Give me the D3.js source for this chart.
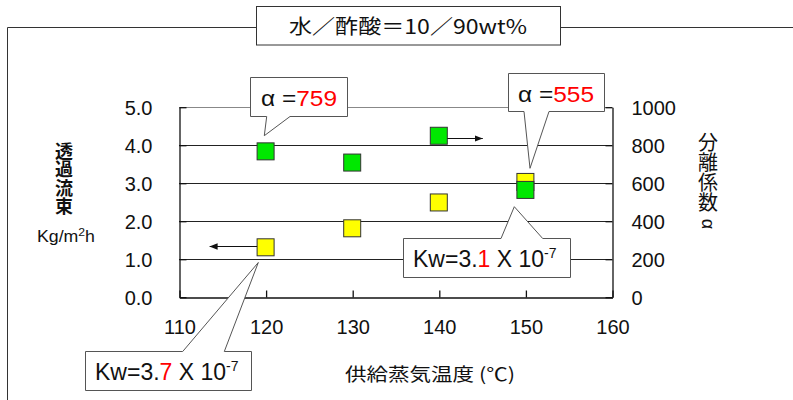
<!DOCTYPE html>
<html><head><meta charset="utf-8">
<script src="https://cdn.jsdelivr.net/npm/d3@7"></script>
<style>
html,body{margin:0;padding:0;background:#fff;}
text{font-family:"Liberation Sans","Noto Sans CJK JP",Arial,sans-serif;}
.jp{font-family:"Noto Sans CJK JP","Noto Sans CJK SC",sans-serif;}
.vert{writing-mode:vertical-rl;text-orientation:upright;}
</style></head>
<body><svg id="c" width="793" height="400"></svg>
<script>
// ---- data ----
const temps = [120, 130, 140, 150];          // 供給蒸気温度 (℃)
const flux = [1.30, 1.80, 2.48, 3.02];       // 透過流束 Kg/m2h (left axis)
const alpha = [765, 706, 847, 562];          // 分離係数 α (right axis)
const xTicks = [110, 120, 130, 140, 150, 160];
const yLeftTicks = [0, 1, 2, 3, 4, 5];
const yRightTicks = [0, 200, 400, 600, 800, 1000];
const title = "水／酢酸＝10／90wt%";

const svg = d3.select("#c");
const X0 = 179, X1 = 612, Y0 = 296.7, Y1 = 106.7;
const x = d3.scaleLinear().domain([110, 160]).range([X0, X1]);
const yL = d3.scaleLinear().domain([0, 5]).range([Y0, Y1]);
const yR = d3.scaleLinear().domain([0, 1000]).range([Y0, Y1]);

// outer frame
svg.append("path").attr("d", "M7.5,400 V27.5 H256 M560,27.5 H793")
  .attr("fill", "none").attr("stroke", "#333").attr("stroke-width", 1);
svg.append("rect").attr("x", 256.5).attr("y", 6.5).attr("width", 304).attr("height", 38.5)
  .attr("fill", "#fff").attr("stroke", "#333");
svg.append("text").attr("class", "jp").attr("x", 408).attr("y", 34).attr("text-anchor", "middle")
  .attr("font-size", 20).attr("textLength", 238).attr("lengthAdjust", "spacingAndGlyphs")
  .attr("fill", "#111").text(title);

// gridlines
const g = svg.append("g");
g.selectAll("line.grid").data(yLeftTicks.filter(d => d > 0 && d < 5)).join("line")
  .attr("x1", X0).attr("x2", X1).attr("y1", d => Math.round(yL(d)) + 0.5).attr("y2", d => Math.round(yL(d)) + 0.5)
  .attr("stroke", "#222");
g.append("line").attr("x1", X0).attr("x2", X1).attr("y1", Math.round(yL(5)) + 0.5).attr("y2", Math.round(yL(5)) + 0.5)
  .attr("stroke", "#888");

// axes
const fontAxis = 20;
const axL = svg.append("g").attr("transform", `translate(${X0 + 0.5},0.5)`)
  .call(d3.axisLeft(yL).tickValues(yLeftTicks).tickFormat(d3.format(".1f")).tickSize(-7).tickSizeOuter(0).tickPadding(27));
const axR = svg.append("g").attr("transform", `translate(${X1 + 0.5},0.5)`)
  .call(d3.axisRight(yR).tickValues(yRightTicks).tickFormat(d3.format("d")).tickSize(-7).tickSizeOuter(0).tickPadding(19));
const axB = svg.append("g").attr("transform", `translate(0.5,${Math.round(Y0) + 0.5})`)
  .call(d3.axisBottom(x).tickValues(xTicks).tickFormat(d3.format("d")).tickSize(-7).tickSizeOuter(0).tickPadding(22));
[axL, axR, axB].forEach(a => {
  a.selectAll("text").attr("font-size", fontAxis).attr("fill", "#111")
    .style("font-family", "'Liberation Sans',Arial,sans-serif");
  a.selectAll("line,path").attr("stroke", "#111").attr("stroke-width", 1.3);
});
axL.selectAll("text").attr("dy", "0.36em");
axR.selectAll("text").attr("dy", "0.36em");

// axis titles
svg.append("text").attr("class", "jp vert").attr("x", 64).attr("y", 142)
  .attr("font-size", 18).attr("font-weight", "bold").attr("letter-spacing", 0.5)
  .attr("fill", "#111").text("透過流束");
svg.append("text").attr("x", 66).attr("y", 242).attr("text-anchor", "middle")
  .attr("font-size", 16).attr("textLength", 58).attr("lengthAdjust", "spacingAndGlyphs").attr("fill", "#111")
  .html('Kg/m<tspan font-size="11" dy="-6">2</tspan><tspan dy="6">h</tspan>');
svg.append("text").attr("class", "jp vert").attr("x", 708).attr("y", 132)
  .attr("font-size", 20).attr("fill", "#111").text("分離係数");
svg.append("text").attr("transform", "translate(708,224) rotate(90)").attr("text-anchor", "middle")
  .attr("dy", "0.35em").attr("font-size", 18).attr("fill", "#111").text("α");
svg.append("text").attr("class", "jp").attr("x", 430).attr("y", 381).attr("text-anchor", "middle")
  .attr("font-size", 18).attr("textLength", 170).attr("lengthAdjust", "spacingAndGlyphs")
  .attr("fill", "#111").text("供給蒸気温度 (℃)");

// markers
const S = 17;
svg.append("g").selectAll("rect").data(temps).join("rect")
  .attr("x", (d) => x(d) - S / 2).attr("y", (d, i) => yL(flux[i]) - S / 2)
  .attr("width", S).attr("height", S).attr("fill", "#ffff00").attr("stroke", "#333").attr("stroke-width", 1);
svg.append("g").selectAll("rect").data(temps).join("rect")
  .attr("x", (d) => x(d) - S / 2).attr("y", (d, i) => yR(alpha[i]) - S / 2)
  .attr("width", S).attr("height", S).attr("fill", "#00e800").attr("stroke", "#333").attr("stroke-width", 1);

// series arrows
const defs = svg.append("defs");
defs.append("marker").attr("id", "ah").attr("viewBox", "0 0 10 10").attr("refX", 10).attr("refY", 5)
  .attr("markerWidth", 8).attr("markerHeight", 8).attr("markerUnits", "userSpaceOnUse").attr("orient", "auto")
  .append("path").attr("d", "M0,1 L10,5 L0,9 Z").attr("fill", "#111");
svg.append("line").attr("x1", x(140) + S / 2).attr("x2", x(140) + 44).attr("y1", 138.5).attr("y2", 138.5)
  .attr("stroke", "#111").attr("stroke-width", 1.2).attr("marker-end", "url(#ah)");
svg.append("line").attr("x1", x(120) - S / 2).attr("x2", x(120) - 56).attr("y1", 246.5).attr("y2", 246.5)
  .attr("stroke", "#111").attr("stroke-width", 1.2).attr("marker-end", "url(#ah)");

// callouts
const callouts = [
  "M250.5,77.5 H347.5 V116.5 H290 L264.3,135.7 L266.7,116.5 H250.5 Z",
  "M508.5,73.5 H604.5 V111.5 H549 L530,168.3 L524,111.5 H508.5 Z",
  "M403.5,238.5 H501 L514.3,206.7 L542.7,238.5 H570.5 V277.5 H403.5 Z",
  "M85.5,351.5 H182.7 L258.3,262.5 L224.3,351.5 H251.5 V390.5 H85.5 Z"
];
svg.append("g").selectAll("path").data(callouts).join("path").attr("d", d => d)
  .attr("fill", "#fff").attr("stroke", "#555").attr("stroke-width", 1);

function alphaLabel(xp, yp, val) {
  const t = svg.append("text").attr("x", xp).attr("y", yp).attr("font-size", 22).attr("fill", "#111")
    .attr("textLength", 76).attr("lengthAdjust", "spacingAndGlyphs");
  t.append("tspan").text("α =");
  t.append("tspan").attr("fill", "#ff0000").text(val);
}
alphaLabel(261, 106, "759");
alphaLabel(518, 102, "555");
function kwLabel(xp, yp, digit) {
  const t = svg.append("text").attr("x", xp).attr("y", yp).attr("font-size", 23).attr("fill", "#111");
  t.append("tspan").text("Kw=3.");
  t.append("tspan").attr("fill", "#ff0000").text(digit);
  t.append("tspan").text(" X 10");
  t.append("tspan").attr("font-size", 14).attr("dy", -9).text("-7");
}
kwLabel(413, 267, "1");
kwLabel(95, 380, "7");
</script></body></html>
